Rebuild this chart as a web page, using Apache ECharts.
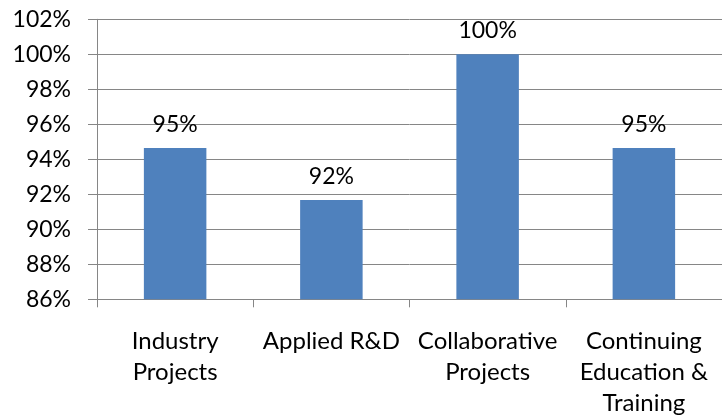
<!DOCTYPE html>
<html>
<head>
<meta charset="utf-8">
<style>html,body{margin:0;padding:0;background:#fff;}#c{width:722px;height:420px;}</style>
<script src="https://cdn.jsdelivr.net/npm/echarts@6/dist/echarts.min.js"></script>
</head>
<body>
<div id="c"></div>
<script>
var categories = ['Industry\nProjects', 'Applied R&D', 'Collaborative\nProjects', 'Continuing\nEducation &\nTraining'];
var values = [94.64, 91.67, 100, 94.64];
var yTicks = {min: 86, max: 102, interval: 2};

var chart = echarts.init(document.getElementById('c'));
var font = 'Lato, Calibri, Carlito, sans-serif';
chart.setOption({
  animation: false,
  grid: {left: 97, right: -10, top: 19.3, bottom: 120.7, containLabel: false},
  xAxis: {
    type: 'category',
    data: categories,
    axisLine: {lineStyle: {color: '#868686', width: 1}},
    axisTick: {show: true, length: 8, alignWithLabel: false, lineStyle: {color: '#868686'}},
    axisLabel: {interval: 0, margin: 26, color: '#000', fontFamily: font, fontSize: 24, lineHeight: 31, align: 'center'}
  },
  yAxis: {
    type: 'value',
    min: yTicks.min, max: yTicks.max, interval: yTicks.interval,
    axisLine: {show: true, lineStyle: {color: '#868686', width: 1}},
    axisTick: {show: true, length: 9, lineStyle: {color: '#868686'}},
    splitLine: {lineStyle: {color: '#868686', width: 1}},
    axisLabel: {formatter: '{value}%', margin: 26, color: '#000', fontFamily: font, fontSize: 23}
  },
  series: [{
    type: 'bar',
    data: values,
    barWidth: '40%',
    itemStyle: {color: '#4F81BD'},
    label: {
      show: true, position: 'top', distance: 12,
      color: '#000', fontFamily: font, fontSize: 23,
      formatter: function (p) { return Math.round(p.value) + '%'; }
    }
  }]
});
</script>
</body>
</html>
